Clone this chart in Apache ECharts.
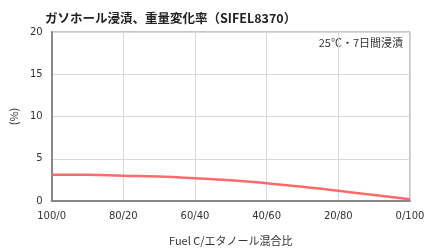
<!DOCTYPE html>
<html><head><meta charset="utf-8">
<script src="https://cdn.jsdelivr.net/npm/echarts@6/dist/echarts.min.js"></script>
<style>html,body{margin:0;padding:0;background:#fff}#c{width:430px;height:251px}</style>
</head><body><div id="c"></div>
<script>
const ethanolPct = [0, 10, 20, 30, 40, 50, 60, 70, 80, 90, 100];
const weightChange = [3.1, 3.1, 3.0, 2.9, 2.7, 2.45, 2.1, 1.7, 1.2, 0.7, 0.2];
const yTicks = [0, 5, 10, 15, 20];
const titleText = 'ガソホール浸漬、重量変化率（SIFEL8370）';
const noteText = '25℃・7日間浸漬';
const xName = 'Fuel C/エタノール混合比';
const yName = '(%)';

const font = '"Noto Sans CJK JP", "DejaVu Sans", sans-serif';
const chart = echarts.init(document.getElementById('c'));
chart.setOption({
  animation: false,
  title: { text: titleText, left: 40, top: 7, textStyle: { fontSize: 12.5, fontWeight: 'bold', color: '#222', fontFamily: font } },
  grid: { left: 42, right: 20, top: 32, bottom: 48, show: true, borderColor: '#888', borderWidth: 1 },
  xAxis: {
    type: 'value', min: 0, max: 100, interval: 20,
    name: xName, nameLocation: 'middle', nameGap: 34,
    nameTextStyle: { fontSize: 11, color: '#333', fontFamily: font },
    axisLine: { lineStyle: { color: '#888', width: 2 } },
    axisTick: { show: false },
    axisLabel: { fontSize: 10, color: '#333', margin: 10, fontFamily: '"DejaVu Sans", sans-serif', formatter: v => (100 - v) + '/' + v },
    splitLine: { show: true, lineStyle: { color: '#d8d8d8', width: 1 } }
  },
  yAxis: {
    type: 'value', min: yTicks[0], max: yTicks[yTicks.length - 1], interval: 5,
    name: yName, nameLocation: 'middle', nameGap: 29, nameRotate: 90,
    nameTextStyle: { fontSize: 11, color: '#333', fontFamily: font },
    axisLine: { show: true, lineStyle: { color: '#888', width: 2 } },
    axisTick: { show: false },
    axisLabel: { fontSize: 10, color: '#333', margin: 9, fontFamily: '"DejaVu Sans", sans-serif' },
    splitLine: { show: true, lineStyle: { color: '#d8d8d8', width: 1 } }
  },
  graphic: [{ type: 'text', right: 27, top: 37, style: { text: noteText, fontSize: 11, fill: '#333', fontFamily: font } }],
  series: [{
    type: 'line', smooth: true, symbol: 'none',
    data: ethanolPct.map((x, i) => [x, weightChange[i]]),
    lineStyle: { color: '#ff6b6b', width: 2.5 }
  }]
});
</script></body></html>
